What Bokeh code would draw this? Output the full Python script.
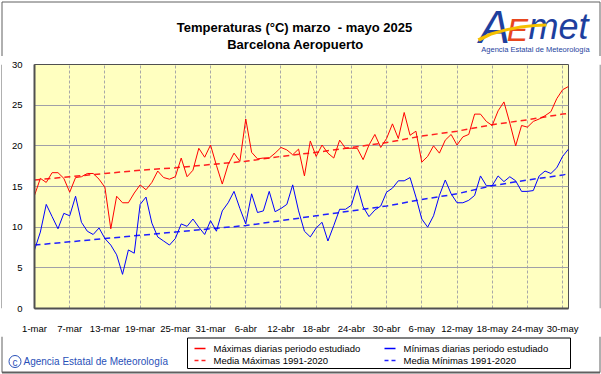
from bokeh.plotting import figure
from bokeh.layouts import column, row
from bokeh.models import Range1d, FixedTicker
from bokeh.core.properties import value
from bokeh.embed import file_html
from bokeh.resources import INLINE

# ---- data (day index 0 = 1 March 2025, 91 = 31 May 2025) ----
days = list(range(92))
tmax = [13.9, 16.0, 15.5, 16.7, 16.7, 16.0, 14.3, 16.1, 16.2, 16.6,
        16.6, 15.9, 14.9, 9.8, 13.8, 13.0, 13.0, 14.2, 15.2, 14.6,
        15.5, 16.9, 16.1, 15.9, 16.2, 18.5, 16.2, 17.0, 19.7, 18.6,
        20.1, 17.6, 15.3, 17.7, 19.1, 18.1, 23.3, 19.2, 18.4, 18.5,
        18.5, 19.1, 19.8, 19.5, 18.9, 19.6, 16.3, 20.6, 18.7, 20.1,
        19.1, 18.5, 20.7, 19.7, 19.7, 19.7, 18.3, 20.1, 21.4, 19.8,
        20.9, 22.7, 20.9, 24.1, 21.3, 21.8, 18.0, 18.7, 20.0, 19.1,
        20.7, 21.4, 20.1, 21.1, 21.4, 23.9, 23.9, 23.0, 22.5, 24.3,
        25.4, 22.8, 20.0, 22.5, 22.3, 23.0, 23.3, 23.7, 24.2, 25.8,
        26.9, 27.3]
tmin = [7.2, 9.4, 12.8, 11.3, 9.8, 11.7, 11.4, 13.8, 10.6, 9.5,
        9.1, 9.9, 8.6, 7.8, 6.6, 4.2, 7.2, 6.8, 12.8, 13.7,
        10.5, 8.8, 8.3, 7.8, 8.6, 10.4, 10.1, 11.0, 10.0, 9.1,
        10.8, 9.5, 12.0, 13.0, 14.4, 12.3, 10.4, 14.1, 11.8, 12.0,
        14.4, 11.9, 12.3, 12.8, 15.2, 12.0, 9.5, 8.8, 9.9, 10.6,
        8.3, 10.2, 12.2, 12.2, 12.7, 15.1, 12.5, 11.3, 12.1, 12.6,
        14.3, 14.8, 15.7, 15.7, 16.1, 13.7, 11.0, 10.0, 11.4, 13.9,
        15.8, 14.1, 13.0, 13.0, 13.3, 13.9, 16.3, 15.1, 15.1, 16.3,
        15.6, 16.2, 15.7, 14.4, 14.4, 14.5, 16.3, 16.9, 16.6, 17.3,
        18.7, 19.6]
norm_days = [0, 6, 12, 18, 24, 30, 36, 42, 48, 54, 60, 66, 72, 78, 84, 90, 91]
norm_max = [15.8, 16.2, 16.6, 17.0, 17.3, 17.7, 18.1, 18.7, 19.2, 19.8,
            20.4, 21.2, 21.8, 22.6, 23.2, 23.9, 24.0]
norm_min = [7.8, 8.2, 8.6, 9.0, 9.4, 9.8, 10.2, 10.8, 11.4, 12.0,
            12.6, 13.4, 14.1, 15.1, 15.8, 16.4, 16.6]
tick_days = [0, 6, 12, 18, 24, 30, 36, 42, 48, 54, 60, 66, 72, 78, 84, 90]
tick_labels = ["1-mar", "7-mar", "13-mar", "19-mar", "25-mar", "31-mar",
               "6-abr", "12-abr", "18-abr", "24-abr", "30-abr",
               "6-may", "12-may", "18-may", "24-may", "30-may"]
y_ticks = [0, 5, 10, 15, 20, 25, 30]
title_lines = ["Temperaturas (°C) marzo \u00a0- mayo 2025", "Barcelona Aeropuerto"]
legend_labels = ["Máximas diarias periodo estudiado", "Media Máximas 1991-2020",
                 "Mínimas diarias periodo estudiado", "Media Mínimas 1991-2020"]
credit = "Agencia Estatal de Meteorología"

FONT = "Liberation Sans"
W = 601
C_MAX, C_MIN = "#ff0000", "#0000ff"
C_NMAX, C_NMIN = "#ff2020", "#2020ff"
C_AEMET = "#1e3f9e"
C_FRAME = "#606060"
XL, XR = 1.5, 599.5   # outer frame line centres


def blank(width, height, left, right, top, bottom):
    """A figure with no axes whose coordinates are page pixels (y downwards)."""
    f = figure(width=width, height=height, output_backend="svg", toolbar_location=None,
               x_range=Range1d(left, right), y_range=Range1d(bottom, top),
               x_axis_type=None, y_axis_type=None, min_border=0)
    f.outline_line_color = None
    f.xgrid.visible = False
    f.ygrid.visible = False
    f.background_fill_color = "white"
    return f


# ---------------- header (y 0 .. 56) ----------------
head = blank(W, 56, 0, W, 0, 56)
head.text(x=[294, 295], y=[27, 44], text=title_lines, text_font=value(FONT),
          text_font_size=value("13px"), text_font_style="bold", text_align="center",
          text_baseline="middle", text_color="black")
# logo
head.text(x=[494], y=[26], text=["A"], text_font=value(FONT), text_font_size=value("46px"),
          text_font_style="italic", text_color=C_AEMET, text_align="center", text_baseline="middle")
head.text(x=[517], y=[29], text=["E"], text_font=value(FONT), text_font_size=value("32px"),
          text_font_style="italic", text_color="#e8461e", text_align="center", text_baseline="middle")
head.text(x=[558], y=[26], text=["met"], text_font=value(FONT), text_font_size=value("36px"),
          text_font_style="italic", text_color=C_AEMET, text_align="center", text_baseline="middle")
head.patch(x=[477, 490, 505, 520, 535, 546, 546, 534, 520, 505, 491, 479],
           y=[38, 32, 28, 25, 23.5, 23, 26, 26.5, 28, 31, 35, 41],
           fill_color="#f5c000", line_color=None)
head.text(x=[535], y=[49], text=[credit], text_font=value(FONT), text_font_size=value("7.5px"),
          text_color=C_AEMET, text_align="center", text_baseline="middle")
head.segment(x0=[XL, XL, XR], y0=[1.5, 1.5, 1.5], x1=[XR, XL, XR], y1=[1.5, 56, 56],
             line_color=C_FRAME, line_width=1)

# ---------------- main chart (y 56 .. 336) ----------------
p = figure(width=597, height=280, output_backend="svg", toolbar_location=None,
           x_range=Range1d(0, 91), y_range=Range1d(0, 30),
           min_border_left=32, min_border_right=31, min_border_top=8,
           min_border_bottom=26, background_fill_color="#ffffc0",
           border_fill_color="white")
p.outline_line_color = "#505050"
p.outline_line_width = 1

p.xaxis.ticker = FixedTicker(ticks=tick_days)
p.xaxis.major_label_overrides = {d: l for d, l in zip(tick_days, tick_labels)}
p.yaxis.ticker = FixedTicker(ticks=y_ticks)
for ax in (p.xaxis[0], p.yaxis[0]):
    ax.major_tick_line_color = None
    ax.minor_tick_line_color = None
    ax.axis_line_color = "#505050"
    ax.axis_line_width = 2
    ax.major_label_text_font = FONT
    ax.major_label_text_font_size = "9.5px"
    ax.major_label_text_color = "#000000"
p.xaxis.major_label_standoff = 8
p.yaxis.major_label_standoff = 6

p.xgrid.ticker = FixedTicker(ticks=tick_days)
p.xgrid.grid_line_color = "#a8a8a8"
p.xgrid.grid_line_dash = "3 2"
p.ygrid.ticker = FixedTicker(ticks=y_ticks)
p.ygrid.grid_line_color = "#a0a0a8"

p.line(norm_days, norm_max, line_color=C_NMAX, line_width=1.5, line_dash="6 4")
p.line(norm_days, norm_min, line_color=C_NMIN, line_width=1.5, line_dash="6 4")
p.line(days, tmax, line_color=C_MAX, line_width=1)
p.line(days, tmin, line_color=C_MIN, line_width=1)

lbar = blank(2, 280, 0, 2, 56, 336)
lbar.segment(x0=[XL], y0=[56], x1=[XL], y1=[336], line_color=C_FRAME, line_width=1)
rbar = blank(2, 280, 599, 601, 56, 336)
rbar.segment(x0=[XR], y0=[56], x1=[XR], y1=[336], line_color=C_FRAME, line_width=1)
middle = row(lbar, p, rbar, spacing=0)

# ---------------- footer (y 336 .. 374) ----------------
foot = blank(W, 38, 0, W, 336, 374)
foot.quad(left=[187], right=[570], top=[337.5], bottom=[368], fill_color="white",
          line_color="black", line_width=1)
lx0 = [194, 384]
foot.segment(x0=lx0, y0=[348, 348], x1=[v + 11 for v in lx0], y1=[348, 348],
             line_color=[C_MAX, C_MIN], line_width=1.3)
foot.segment(x0=lx0, y0=[360, 360], x1=[v + 11 for v in lx0], y1=[360, 360],
             line_color=[C_NMAX, C_NMIN], line_width=1.3, line_dash="4 3")
foot.text(x=[213, 213, 403, 403], y=[348, 360, 348, 360], text=legend_labels,
          text_font=value(FONT), text_font_size=value("9.5px"), text_align="left",
          text_baseline="middle", text_color="black")
foot.circle(x=[14.5], y=[361], radius=6, fill_color=None, line_color="#2850b8", line_width=1)
foot.text(x=[14.5], y=[361.5], text=["c"], text_font=value(FONT), text_font_size=value("10px"),
          text_align="center", text_baseline="middle", text_color="#2850b8")
foot.text(x=[23], y=[361], text=[credit], text_font=value(FONT), text_font_size=value("10px"),
          text_align="left", text_baseline="middle", text_color="#2850b8")
foot.segment(x0=[XL, XR, XL], y0=[336, 336, 372], x1=[XL, XR, XR], y1=[372, 372, 372],
             line_color=C_FRAME, line_width=[1, 1, 2])

page = column(head, middle, foot, spacing=0)
open("out.html", "w").write(file_html(page, INLINE))
